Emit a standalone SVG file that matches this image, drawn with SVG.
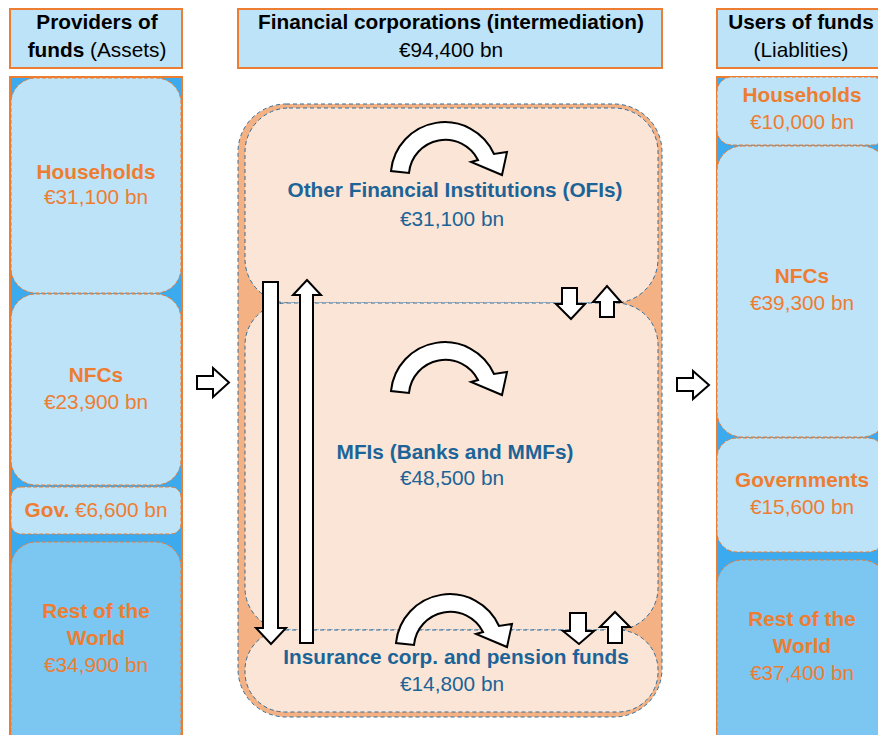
<svg xmlns="http://www.w3.org/2000/svg" width="878" height="735" viewBox="0 0 878 735">
<style>
text{font-family:"Liberation Sans",Arial,sans-serif;font-size:20.8px;text-anchor:middle}
.b{font-weight:bold}
.hdr{fill:#BDE3F8;stroke:#ED7D31;stroke-width:2}
.col{fill:#3BAAEE;stroke:#ED7D31;stroke-width:2}
.ln{fill:#BDE3F8;stroke:#ED7D31;stroke-width:1;stroke-dasharray:4 2}
.dn{fill:#7CC6F2;stroke:#ED7D31;stroke-width:1;stroke-dasharray:4 2}
.ot{fill:#ED7D31}
.bt{fill:#1C6498}
.blk{fill:#000}
.cont{fill:#F4B183;stroke:#2F6E9E;stroke-width:1;stroke-dasharray:4 3}
.fc{fill:#FBE5D6;stroke:#2F6E9E;stroke-width:1;stroke-dasharray:4 3}
.ar{fill:#fff;stroke:#000;stroke-width:2;stroke-linejoin:miter}
</style>
<defs>
<path id="curved" d="M391,171 A54 54 0 0 1 494,154 L507,152 L502,175 L471,162 L478,160 A36.5 36.5 0 0 0 409,173 Z"/>
</defs>
<rect width="878" height="735" fill="#fff"/>

<g id="hdr-providers">
<rect class="hdr" x="10" y="9" width="172" height="59"/>
<text x="97" y="29" class="b blk">Providers of</text>
<text x="97" y="57" class="blk"><tspan class="b">funds</tspan> (Assets)</text>
</g>
<g id="hdr-fc">
<rect class="hdr" x="238" y="9" width="424" height="59"/>
<text x="451" y="29" class="b blk">Financial corporations (intermediation)</text>
<text x="451" y="57" class="blk">€94,400 bn</text>
</g>
<g id="hdr-users">
<rect class="hdr" x="717" y="9" width="175" height="59"/>
<text x="801" y="29" class="b blk">Users of funds</text>
<text x="801" y="57" class="blk">(Liablities)</text>
</g>

<g id="providers-column">
<rect class="col" x="10" y="77" width="172" height="670"/>
</g>
<g id="p-households">
<rect class="ln" x="11" y="78" width="170" height="215" rx="25"/>
<text x="96" y="179" class="b ot">Households</text>
<text x="96" y="204" class="ot">€31,100 bn</text>
</g>
<g id="p-nfcs">
<rect class="ln" x="11" y="294" width="170" height="191" rx="25"/>
<text x="96" y="382" class="b ot">NFCs</text>
<text x="96" y="409" class="ot">€23,900 bn</text>
</g>
<g id="p-gov">
<rect class="ln" x="11" y="487" width="170" height="47" rx="10"/>
<text x="96" y="517" class="ot"><tspan class="b">Gov.</tspan> €6,600 bn</text>
</g>
<g id="p-row">
<rect class="dn" x="11" y="542" width="170" height="215" rx="25"/>
<text x="96" y="618" class="b ot">Rest of the</text>
<text x="96" y="645" class="b ot">World</text>
<text x="96" y="672" class="ot">€34,900 bn</text>
</g>

<g id="users-column">
<rect class="col" x="717" y="77" width="175" height="670"/>
</g>
<g id="u-households">
<rect class="ln" x="717" y="77" width="170" height="68" rx="15"/>
<text x="802" y="102" class="b ot">Households</text>
<text x="802" y="129" class="ot">€10,000 bn</text>
</g>
<g id="u-nfcs">
<rect class="ln" x="717" y="146" width="170" height="291" rx="25"/>
<text x="802" y="283" class="b ot">NFCs</text>
<text x="802" y="310" class="ot">€39,300 bn</text>
</g>
<g id="u-gov">
<rect class="ln" x="717" y="438" width="170" height="114" rx="20"/>
<text x="802" y="487" class="b ot">Governments</text>
<text x="802" y="514" class="ot">€15,600 bn</text>
</g>
<g id="u-row">
<rect class="dn" x="717" y="560" width="170" height="200" rx="25"/>
<text x="802" y="626" class="b ot">Rest of the</text>
<text x="802" y="653" class="b ot">World</text>
<text x="802" y="680" class="ot">€37,400 bn</text>
</g>

<g id="fc-container">
<rect class="cont" x="238" y="104" width="424" height="613" rx="48"/>
</g>
<g id="ofi">
<rect class="fc" x="245" y="108" width="413" height="195" rx="44"/>
<text x="455" y="197" class="b bt">Other Financial Institutions (OFIs)</text>
<text x="452" y="226" class="bt">€31,100 bn</text>
</g>
<g id="mfi">
<rect class="fc" x="245" y="303" width="413" height="327" rx="42"/>
<text x="455" y="459" class="b bt">MFIs (Banks and MMFs)</text>
<text x="452" y="485" class="bt">€48,500 bn</text>
</g>
<g id="icpf">
<rect class="fc" x="245" y="630" width="413" height="82" rx="40"/>
<text x="456" y="664" class="b bt">Insurance corp. and pension funds</text>
<text x="452" y="691" class="bt">€14,800 bn</text>
</g>

<g id="connectors">
<path class="ar" d="M197,376 H213 V368 L229,382.5 L213,397 V389 H197 Z"/>
<path class="ar" d="M677,378 H693 V371 L709,385 L693,399 V391 H677 Z"/>
<path class="ar" d="M263,282 H278 V628 H286 L271,644 L256,628 H263 Z"/>
<path class="ar" d="M300,643 V295 H293 L307,280 L321,295 H313 V643 Z"/>
<path class="ar" d="M562,288 H577 V304 H585 L571,319 L556,304 H562 Z"/>
<path class="ar" d="M600,317 V302 H593 L607,286 L621,302 H614 V317 Z"/>
<path class="ar" d="M570,613 H586 V631 H594 L579,644 L563,631 H570 Z"/>
<path class="ar" d="M608,643 V627 H600 L615,612 L630,627 H622 V643 Z"/>
<use href="#curved" class="ar"/>
<use href="#curved" class="ar" transform="translate(0,220)"/>
<use href="#curved" class="ar" transform="translate(5,472)"/>
</g>
</svg>
